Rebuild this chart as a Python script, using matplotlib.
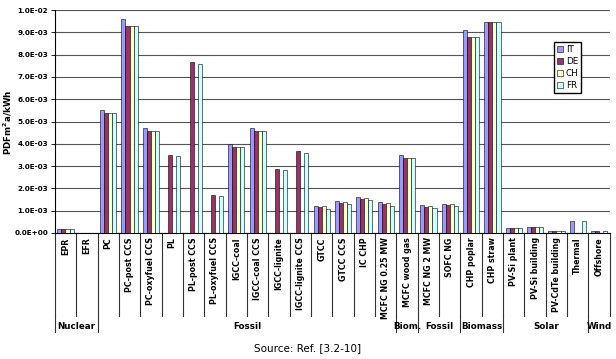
import matplotlib.pyplot as plt
import matplotlib.transforms as mtransforms
import numpy as np

categories = ["EPR", "EFR", "PC", "PC-post CCS", "PC-oxyfuel CCS", "PL", "PL-post CCS",
              "PL-oxyfuel CCS", "IGCC-coal", "IGCC-coal CCS", "IGCC-lignite",
              "IGCC-lignite CCS", "GTCC", "GTCC CCS", "IC CHP", "MCFC NG 0.25 MW",
              "MCFC wood gas", "MCFC NG 2 MW", "SOFC NG", "CHP poplar", "CHP straw",
              "PV-Si plant", "PV-Si building", "PV-CdTe building", "Thermal", "Offshore"]

# values in 1e-3 PDF m2 a / kWh
it = [0.18, 0, 5.52, 9.6, 4.72, 0, 0, 0, 4.0, 4.72, 0, 0, 1.23, 1.44, 1.62, 1.38,
      3.5, 1.25, 1.31, 9.12, 9.45, 0.23, 0.27, 0.08, 0.52, 0.1]
de = [0.18, 0, 5.36, 9.28, 4.57, 3.48, 7.66, 1.71, 3.87, 4.57, 2.86, 3.67, 1.16, 1.36,
      1.53, 1.31, 3.38, 1.18, 1.26, 8.77, 9.45, 0.24, 0.28, 0.1, 0, 0.08]
ch = [0.18, 0, 5.36, 9.28, 4.57, 0, 0, 0, 3.87, 4.57, 0, 0, 1.19, 1.38, 1.57, 1.34,
      3.38, 1.22, 1.3, 8.77, 9.45, 0.23, 0.27, 0.1, 0, 0.02]
fr = [0.18, 0, 5.36, 9.28, 4.57, 3.45, 7.6, 1.65, 3.87, 4.57, 2.81, 3.61, 1.08, 1.28,
      1.48, 1.23, 3.38, 1.12, 1.2, 8.77, 9.45, 0.23, 0.27, 0.07, 0.54, 0.07]
series = {"IT": it, "DE": de, "CH": ch, "FR": fr}
colors = {"IT": "#9999FF", "DE": "#993366", "CH": "#FFFFCC", "FR": "#CCFFFF"}

groups = ["Nuclear", "Fossil", "Biom.", "Fossil", "Biomass", "Solar", "Wind"]
group_sizes = [2, 14, 1, 2, 2, 4, 1]

fig = plt.figure(figsize=(6.16, 3.59), dpi=100)
ax = fig.add_axes([0.089, 0.351, 0.901, 0.621])

x = np.arange(len(categories))
w = 0.19
for i, (name, vals) in enumerate(series.items()):
    ax.bar(x + (i - 1.5) * w, np.array(vals) * 1e-3, w, color=colors[name],
           edgecolor="black", linewidth=0.4, label=name, zorder=3)

ax.set_xlim(-0.5, len(categories) - 0.5)
ax.set_ylim(0, 0.01)
yt = np.arange(0, 11) * 1e-3
ax.set_yticks(yt)
ax.set_yticklabels([f"{v:.1E}" if v > 0 else "0.0E+00" for v in yt],
                   fontsize=5.2, fontweight="bold")
ax.yaxis.grid(True, color="#555555", linewidth=0.8, zorder=0)
ax.tick_params(axis="y", length=3, width=0.6, pad=2)
fig.text(0.003, 0.66, "PDFm$^{\\mathbf{2}}$a/kWh", rotation=90, ha="left", va="center",
         fontsize=6.3, fontweight="bold")

ax.set_xticks(x)
ax.set_xticklabels(categories, rotation=90, fontsize=5.7, fontweight="bold", va="top")
ax.tick_params(axis="x", length=0, pad=3)

for s in ["top", "right"]:
    ax.spines[s].set_visible(False)
ax.spines["left"].set_linewidth(0.8)
ax.spines["bottom"].set_linewidth(0.8)

trans = mtransforms.blended_transform_factory(ax.transData, ax.transAxes)
for b in np.arange(len(categories) + 1) - 0.5:
    ax.plot([b, b], [0, -0.372], transform=trans, color="#333333", lw=0.8, clip_on=False)

start = -0.5
for g, n in zip(groups, group_sizes):
    ax.plot([start, start], [-0.372, -0.445], transform=trans, color="#333333", lw=0.8,
            clip_on=False)
    ax.text(start + n / 2, -0.42, g, transform=trans, ha="center", va="center",
            fontsize=6.3, fontweight="bold")
    start += n

ax.legend(loc="upper left", bbox_to_anchor=(0.892, 0.875), fontsize=6.3, frameon=True,
          fancybox=False, edgecolor="black", handlelength=0.7, handleheight=0.7,
          handletextpad=0.3, borderpad=0.3, labelspacing=0.35, framealpha=1)

fig.text(0.5, 0.03, "Source: Ref. [3.2-10]", ha="center", va="center", fontsize=7.5)

fig.savefig("out.png", dpi=100)
